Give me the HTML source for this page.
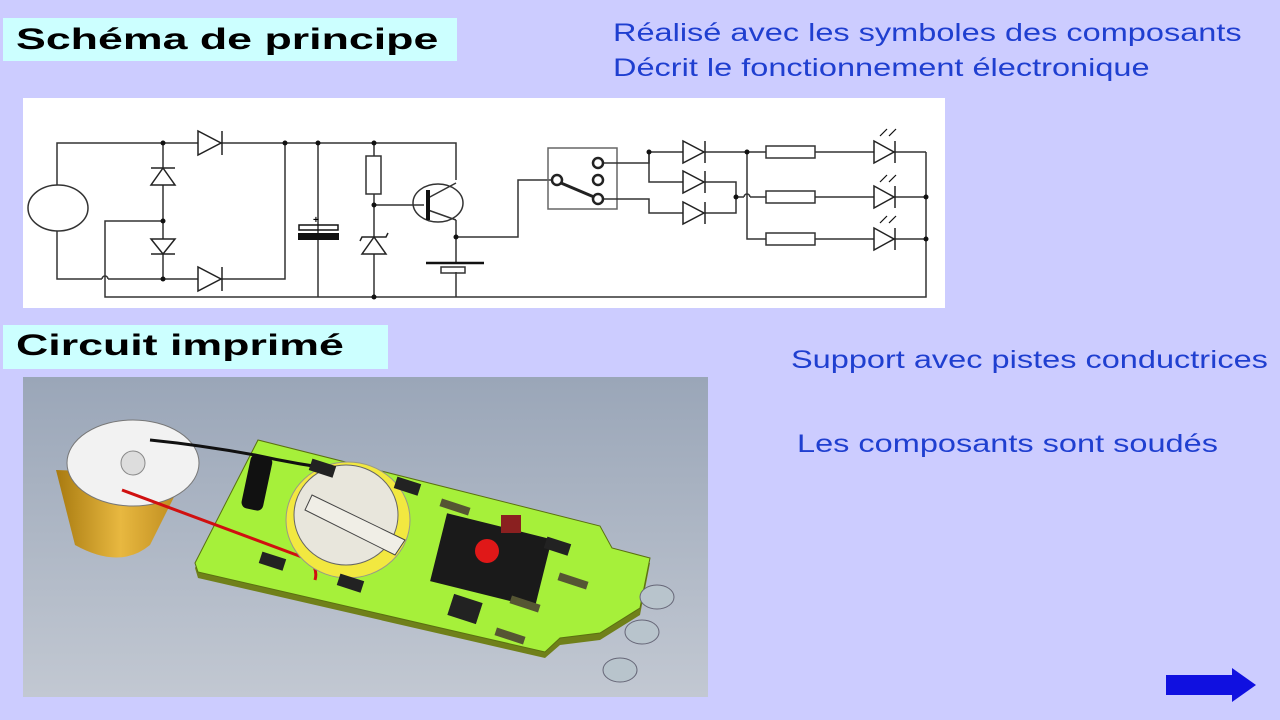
<!DOCTYPE html>
<html><head><meta charset="utf-8"><style>
body{margin:0;width:1280px;height:720px;background:#ccccff;position:relative;overflow:hidden;font-family:"Liberation Sans",sans-serif}
.t{position:absolute;background:#ccffff;font-weight:bold;font-size:30px;color:#000;box-sizing:border-box}
.t span{position:absolute;left:13px;top:0;transform:scaleX(1.49);transform-origin:0 0;white-space:nowrap}
.b{position:absolute;color:#1f3fd0;font-size:25px;transform:scaleX(1.3);transform-origin:0 0;white-space:nowrap}
</style></head><body>
<div class="t" style="left:3px;top:18px;width:454px;height:43px;line-height:43px"><span>Schéma de principe</span></div>
<div class="t" style="left:3px;top:325px;width:385px;height:44px;line-height:42px"><span>Circuit imprimé</span></div>
<div class="b" style="left:613px;top:19px">Réalisé avec les symboles des composants</div>
<div class="b" style="left:613px;top:54px">Décrit le fonctionnement électronique</div>
<div class="b" style="left:791px;top:346px">Support avec pistes conductrices</div>
<div class="b" style="left:797px;top:430px">Les composants sont soudés</div>

<svg style="position:absolute;left:0;top:0" width="1280" height="720">
<rect x="23" y="98" width="922" height="210" fill="#fff"/>
<g stroke="#333" stroke-width="1.5" fill="none">
<polyline points="57,185 57,143 456,143 456,180"/>
<ellipse cx="58" cy="208" rx="30" ry="23"/>
<polyline points="57,231 57,279 102,279"/>
<path d="M102,279 a3,3 0 0 1 6,0"/>
<polyline points="108,279 285,279 285,143"/>
<polyline points="163,143 163,279"/>
<polyline points="163,221 105,221 105,297 926,297 926,152"/>
<line x1="318" y1="143" x2="318" y2="297"/>
<line x1="374" y1="143" x2="374" y2="297"/>
<rect x="366" y="156" width="15" height="38" fill="#fff"/>
<line x1="374" y1="205" x2="424" y2="205"/>
<ellipse cx="438" cy="203" rx="25" ry="19"/>
<line x1="428" y1="198" x2="456" y2="183"/>
<line x1="428" y1="210" x2="456" y2="220"/>
<polyline points="456,220 456,263"/>
<line x1="456" y1="272" x2="456" y2="297"/>
<polyline points="456,237 518,237 518,180 557,180"/>
<rect x="548" y="148" width="69" height="61" stroke="#666"/>
<polyline points="598,163 649,163 649,152 683,152"/>
<polyline points="649,152 649,182 683,182"/>
<polyline points="598,199 649,199 649,213 683,213"/>
<polyline points="705,152 766,152"/>
<polyline points="747,152 747,239 766,239"/>
<polyline points="705,182 736,182 736,213 705,213"/>
<polyline points="736,197 744,197"/><path d="M744,197 a3,3 0 0 1 6,0"/><polyline points="750,197 766,197"/>
<rect x="766" y="146" width="49" height="12" fill="#fff"/>
<rect x="766" y="191" width="49" height="12" fill="#fff"/>
<rect x="766" y="233" width="49" height="12" fill="#fff"/>
<polyline points="815,152 926,152"/><polyline points="815,197 926,197"/><polyline points="815,239 926,239"/>
<rect x="441" y="267" width="24" height="6"/>
</g>
<g fill="#fff" stroke="#222" stroke-width="1.5">
<polygon points="198,131 198,155 221,143"/><line x1="222" y1="131" x2="222" y2="155"/>
<polygon points="198,267 198,291 221,279"/><line x1="222" y1="267" x2="222" y2="291"/>
<polygon points="151,185 175,185 163,168"/><line x1="151" y1="168" x2="175" y2="168"/>
<polygon points="151,239 175,239 163,254"/><line x1="151" y1="254" x2="175" y2="254"/>
<polygon points="362,254 386,254 374,237"/><polyline points="360,241 362,237 386,237 388,233"/>
<polygon points="683,141 683,163 704,152"/><line x1="705" y1="141" x2="705" y2="163"/>
<polygon points="683,171 683,193 704,182"/><line x1="705" y1="171" x2="705" y2="193"/>
<polygon points="683,202 683,224 704,213"/><line x1="705" y1="202" x2="705" y2="224"/>
<polygon points="874,141 874,163 894,152"/><line x1="895" y1="141" x2="895" y2="163"/>
<polygon points="874,186 874,208 894,197"/><line x1="895" y1="186" x2="895" y2="208"/>
<polygon points="874,228 874,250 894,239"/><line x1="895" y1="228" x2="895" y2="250"/>
<circle cx="557" cy="180" r="5" stroke-width="2.5"/>
<circle cx="598" cy="163" r="5" stroke-width="2.5"/>
<circle cx="598" cy="180" r="5" stroke-width="2.5"/>
<circle cx="598" cy="199" r="5" stroke-width="2.5"/>
</g>
<line x1="561" y1="183" x2="594" y2="197" stroke="#222" stroke-width="3"/>
<line x1="428" y1="190" x2="428" y2="220" stroke="#111" stroke-width="4"/>
<rect x="299" y="225" width="39" height="5" fill="none" stroke="#111" stroke-width="1.5"/>
<rect x="298" y="233" width="41" height="7" fill="#111"/>
<text x="313" y="223" font-size="10" font-weight="bold">+</text>
<line x1="426" y1="263" x2="484" y2="263" stroke="#111" stroke-width="2.5"/>
<g fill="#111">
<circle cx="163" cy="143" r="2.5"/><circle cx="163" cy="221" r="2.5"/><circle cx="163" cy="279" r="2.5"/>
<circle cx="285" cy="143" r="2.5"/><circle cx="318" cy="143" r="2.5"/><circle cx="374" cy="143" r="2.5"/>
<circle cx="374" cy="205" r="2.5"/><circle cx="374" cy="297" r="2.5"/><circle cx="456" cy="237" r="2.5"/>
<circle cx="649" cy="152" r="2.5"/><circle cx="747" cy="152" r="2.5"/><circle cx="736" cy="197" r="2.5"/>
<circle cx="926" cy="197" r="2.5"/><circle cx="926" cy="239" r="2.5"/>
</g>
<g stroke="#111" stroke-width="1.2">
<line x1="880" y1="136" x2="887" y2="129"/><line x1="889" y1="136" x2="896" y2="129"/>
<line x1="880" y1="182" x2="887" y2="175"/><line x1="889" y1="182" x2="896" y2="175"/>
<line x1="880" y1="223" x2="887" y2="216"/><line x1="889" y1="223" x2="896" y2="216"/>
</g>

<defs><linearGradient id="bg" x1="0" y1="0" x2="0" y2="1"><stop offset="0" stop-color="#9aa6b8"/><stop offset="1" stop-color="#c2c8d2"/></linearGradient>
<linearGradient id="gold" x1="0" y1="0" x2="1" y2="0"><stop offset="0" stop-color="#a87a10"/><stop offset=".5" stop-color="#e8b840"/><stop offset="1" stop-color="#b8861a"/></linearGradient></defs>
<rect x="23" y="377" width="685" height="320" fill="url(#bg)"/>
<polygon points="195,568 258,443 600,530 612,552 650,563 640,615 600,640 560,645 545,658 198,578" fill="#70801a"/>
<polygon points="195,563 258,440 600,526 612,548 650,558 640,608 600,633 560,638 545,652 198,572" fill="#a6f03a" stroke="#5a7010"/>
<path d="M56,470 L75,545 Q120,570 150,545 L185,475 Z" fill="url(#gold)"/>
<ellipse cx="133" cy="463" rx="66" ry="43" fill="#f2f2f2" stroke="#777"/>
<circle cx="133" cy="463" r="12" fill="#ddd" stroke="#888"/>
<path d="M150,440 Q200,445 255,455 Q300,465 342,470 Q355,480 350,490" stroke="#111" stroke-width="3" fill="none"/>
<path d="M122,490 L310,560 Q318,570 315,580" stroke="#d01010" stroke-width="3" fill="none"/>
<rect x="246" y="455" width="22" height="55" rx="6" fill="#111" transform="rotate(12 257 482)"/>
<ellipse cx="348" cy="520" rx="62" ry="58" fill="#f2e840" stroke="#998"/>
<ellipse cx="346" cy="515" rx="52" ry="50" fill="#e8e6dc" stroke="#666"/>
<path d="M312,495 L405,540 L395,555 L305,510 Z" fill="#f0eee6" stroke="#444"/>
<rect x="437" y="525" width="108" height="70" fill="#1a1a1a" transform="rotate(14 490 560)"/>
<circle cx="487" cy="551" r="12" fill="#e01818"/>
<rect x="501" y="515" width="20" height="18" fill="#8a2020"/>
<g fill="#222">
<rect x="395" y="480" width="25" height="12" transform="rotate(18 407 486)"/>
<rect x="310" y="462" width="25" height="12" transform="rotate(18 322 468)"/>
<rect x="260" y="555" width="25" height="12" transform="rotate(18 272 561)"/>
<rect x="338" y="577" width="25" height="12" transform="rotate(18 350 583)"/>
<rect x="545" y="540" width="25" height="12" transform="rotate(18 557 546)"/>
<rect x="450" y="598" width="30" height="22" transform="rotate(18 465 609)"/>
<rect x="558" y="577" width="30" height="8" fill="#553" transform="rotate(18 573 581)"/>
<rect x="510" y="600" width="30" height="8" fill="#553" transform="rotate(18 525 604)"/>
<rect x="495" y="632" width="30" height="8" fill="#553" transform="rotate(18 510 636)"/>
<rect x="440" y="503" width="30" height="8" fill="#553" transform="rotate(18 455 507)"/>
</g>
<g fill="#b8c4cc" stroke="#667">
<ellipse cx="657" cy="597" rx="17" ry="12"/>
<ellipse cx="642" cy="632" rx="17" ry="12"/>
<ellipse cx="620" cy="670" rx="17" ry="12"/>
</g>
<polygon points="1166,675 1232,675 1232,668 1256,685 1232,702 1232,695 1166,695" fill="#1010e0"/>
</svg>
</body></html>
